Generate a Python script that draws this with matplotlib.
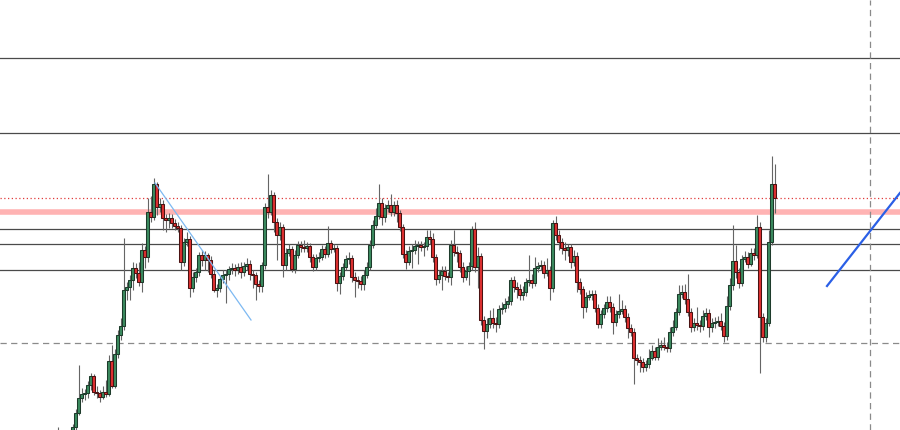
from matplotlib import pyplot as plt
import numpy as np

plt.rcParams['figure.figsize'] = [9.0, 4.3]
plt.rcParams['figure.dpi'] = 100

# chart levels (0 = top edge, 430 = bottom edge)
close = [445, 450, 442, 446, 435, 427, 413, 398, 394, 393, 385, 376, 392, 393, 397, 392, 394, 361, 386, 354,
         335, 326, 290, 287, 280, 268, 273, 282, 250, 257, 212, 217, 184, 207, 204, 218, 220, 218, 223, 226,
         228, 262, 242, 239, 288, 277, 272, 255, 260, 255, 260, 274, 290, 288, 279, 275, 274, 269, 268, 270,
         267, 272, 266, 264, 274, 275, 284, 286, 265, 207, 212, 195, 222, 235, 227, 265, 253, 249, 269, 255,
         245, 247, 248, 246, 257, 267, 258, 257, 249, 254, 243, 249, 248, 283, 276, 267, 259, 258, 277, 280,
         281, 284, 275, 267, 245, 225, 216, 203, 217, 208, 205, 212, 205, 213, 227, 254, 262, 251, 250, 246,
         245, 247, 246, 237, 239, 257, 279, 275, 271, 276, 277, 245, 252, 253, 267, 277, 271, 266, 229, 267,
         256, 320, 331, 324, 318, 323, 324, 309, 308, 304, 301, 280, 287, 289, 295, 292, 282, 280, 283, 268,
         266, 265, 273, 270, 288, 223, 235, 242, 248, 250, 247, 262, 256, 282, 289, 307, 297, 295, 294, 308,
         324, 314, 308, 302, 307, 322, 314, 311, 309, 317, 328, 332, 358, 360, 362, 367, 364, 358, 351, 357,
         347, 345, 347, 348, 332, 327, 312, 294, 292, 299, 312, 327, 323, 325, 326, 316, 313, 327, 323, 322,
         321, 326, 336, 306, 285, 261, 272, 283, 259, 257, 264, 253, 255, 227, 317, 337, 323, 242, 184, 198]

high = [427, 438, 436, 437, 431, 424, 409, 365, 388, 389, 381, 373, 374, 386, 390, 386, 380, 355, 345, 349,
        330, 318, 238, 282, 275, 262, 263, 262, 243, 246, 198, 196, 178, 182, 198, 200, 214, 213, 214, 219,
        222, 225, 238, 232, 236, 272, 268, 252, 250, 251, 253, 256, 270, 284, 276, 270, 270, 266, 263, 264,
        263, 262, 262, 258, 260, 270, 272, 280, 262, 203, 174, 190, 192, 218, 222, 224, 248, 244, 246, 250,
        241, 241, 240, 242, 243, 254, 254, 252, 245, 246, 226, 240, 244, 245, 272, 263, 255, 252, 255, 272,
        276, 276, 270, 262, 240, 220, 208, 184, 198, 204, 200, 194, 201, 200, 210, 224, 250, 246, 244, 240,
        241, 241, 242, 230, 230, 233, 254, 270, 266, 266, 272, 240, 230, 246, 250, 262, 266, 262, 226, 222,
        247, 253, 316, 318, 310, 308, 317, 305, 302, 298, 296, 277, 276, 282, 284, 286, 278, 255, 274, 257,
        262, 260, 261, 258, 266, 220, 216, 230, 238, 242, 244, 244, 250, 252, 278, 286, 292, 290, 290, 290,
        304, 310, 304, 296, 296, 303, 310, 294, 300, 305, 313, 324, 328, 354, 356, 358, 360, 349, 345, 347,
        338, 340, 337, 342, 327, 320, 308, 285, 285, 284, 274, 308, 318, 307, 320, 310, 308, 309, 318, 317,
        316, 313, 322, 296, 278, 225, 245, 268, 255, 251, 252, 248, 248, 215, 222, 313, 318, 230, 156, 164]

low = [455, 456, 455, 452, 450, 438, 430, 415, 402, 400, 398, 390, 395, 398, 402, 399, 397, 396, 388, 388,
       358, 340, 330, 300, 300, 290, 278, 286, 292, 268, 262, 222, 220, 215, 212, 230, 232, 228, 228, 230,
       232, 270, 266, 246, 297, 292, 282, 276, 266, 270, 272, 278, 292, 297, 292, 283, 303, 280, 274, 276,
       274, 278, 276, 270, 280, 288, 300, 292, 292, 269, 218, 215, 232, 260, 240, 277, 270, 256, 272, 273,
       258, 252, 252, 252, 262, 271, 270, 262, 260, 258, 257, 253, 252, 291, 294, 280, 270, 264, 282, 297,
       288, 290, 290, 278, 270, 248, 228, 219, 225, 222, 212, 216, 216, 222, 231, 258, 269, 265, 268, 254,
       264, 251, 256, 250, 244, 262, 285, 283, 290, 280, 282, 285, 256, 262, 272, 282, 280, 285, 270, 272,
       288, 325, 349, 338, 328, 328, 332, 328, 314, 312, 308, 305, 292, 298, 300, 300, 296, 286, 288, 286,
       272, 270, 278, 276, 300, 292, 240, 250, 254, 260, 256, 268, 266, 292, 294, 318, 312, 300, 300, 312,
       328, 328, 318, 312, 312, 334, 326, 318, 314, 322, 338, 336, 384, 365, 372, 372, 371, 368, 360, 360,
       360, 350, 350, 352, 352, 336, 330, 315, 298, 304, 316, 332, 331, 330, 332, 330, 320, 337, 332, 328,
       326, 330, 342, 340, 310, 290, 278, 288, 286, 262, 268, 266, 260, 258, 373, 342, 342, 326, 245, 213]

first_open = 448

solid_levels = [58, 133, 229, 244, 270]
dotted_level = 198
zone_level = 212
dashed_level = 343
time_marker = 270.8

# drawn trend lines: (bar index, level)
trend_down = [(32.5, 183), (64.5, 320)]
trend_up = [(256.5, 286), (280.8, 193)]

green = {"facecolor": "#3b8a5e", "edgecolor": "#1d3b2b"}
red = {"facecolor": "#dd3030", "edgecolor": "#4a1212"}


def plot_candles():
    fig = plt.figure()
    ax = fig.add_axes([0, 0, 1, 1])
    ax.set_xlim(-19.17, 280.83)
    ax.set_ylim(430, 0)
    ax.axis("off")

    c = np.array(close, dtype=float)
    o = np.concatenate([[first_open], c[:-1]])
    x = np.arange(len(c))
    up = c < o

    for lvl in solid_levels:
        ax.axhline(lvl, color="#4a4a4a", linewidth=0.9, zorder=1)
    ax.axhline(zone_level, color="#ffb3b3", linewidth=4.0, zorder=1)
    ax.axhline(dotted_level, color="#e03a3a", linewidth=0.9, linestyle=(0, (1, 2)), zorder=1)
    ax.axhline(dashed_level, color="#8a8a8a", linewidth=0.9, linestyle=(0, (5, 3.5)), zorder=1)
    ax.axvline(time_marker, color="#8a8a8a", linewidth=0.9, linestyle=(0, (5, 3.5)), zorder=1)

    ax.vlines(x, high, low, color="#656565", linewidth=0.8, zorder=2)

    bottom = np.minimum(o, c)
    height = np.maximum(np.abs(c - o), 0.8)
    ax.bar(x[up], height[up], bottom=bottom[up], width=0.72, linewidth=0.75, zorder=3, **green)
    ax.bar(x[~up], height[~up], bottom=bottom[~up], width=0.72, linewidth=0.75, zorder=3, **red)

    (x1, y1), (x2, y2) = trend_down
    ax.plot([x1, x2], [y1, y2], color="#7db9f2", linewidth=0.9, zorder=4)
    (x1, y1), (x2, y2) = trend_up
    ax.plot([x1, x2], [y1, y2], color="#2a5fe6", linewidth=1.6, zorder=4)

    fig.savefig("out.png", dpi=100, facecolor="white")
    plt.close("all")


if __name__ == '__main__':
    plot_candles()
